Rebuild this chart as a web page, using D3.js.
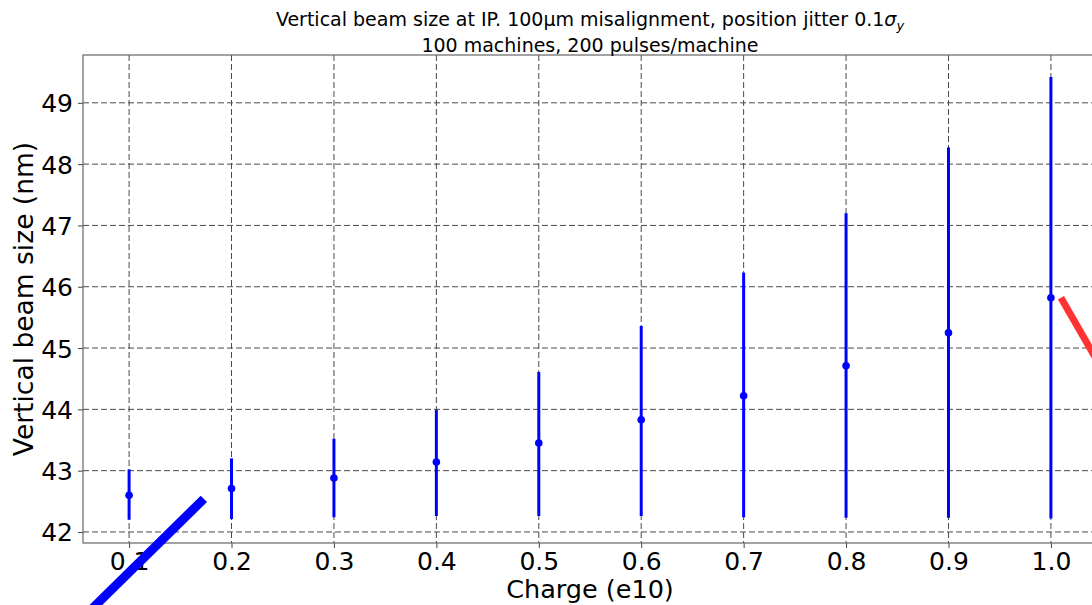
<!DOCTYPE html>
<html><head><meta charset="utf-8">
<script src="https://cdn.jsdelivr.net/npm/d3@7"></script>
<style>body{margin:0;background:#fff}svg{display:block;font-family:"DejaVu Sans",sans-serif}</style>
</head><body><svg id="c" width="1092" height="605"></svg>
<script>
const charges = [0.1,0.2,0.3,0.4,0.5,0.6,0.7,0.8,0.9,1.0];
const meanSize = [42.60,42.71,42.88,43.14,43.45,43.83,44.22,44.71,45.25,45.82];
const upperSize = [43.02,43.20,43.52,43.99,44.61,45.36,46.23,47.20,48.27,49.42];
const lowerSize = [42.20,42.21,42.24,42.26,42.26,42.26,42.24,42.23,42.23,42.22];
const xTicks = [0.1,0.2,0.3,0.4,0.5,0.6,0.7,0.8,0.9,1.0];
const yTicks = [42,43,44,45,46,47,48,49];
const blueArrow = [[0.173,42.54],[0.05,40.52]];
const redArrow = [[1.0098,45.82],[1.048,44.71]];

const svg = d3.select("#c");
const L=83, R=1097, T=55, B=543;
const x = d3.scaleLinear().domain([0.055,1.045]).range([L,R]);
const y = d3.scaleLinear().domain([41.82,49.78]).range([B,T]);

// grid
const g = svg.append("g");
g.selectAll(".gx").data(xTicks).join("line")
 .attr("x1",d=>x(d)).attr("x2",d=>x(d)).attr("y1",T).attr("y2",B)
 .attr("stroke","#4a4a4a").attr("stroke-width",1).attr("stroke-dasharray","6,3");
g.selectAll(".gy").data(yTicks).join("line")
 .attr("y1",d=>y(d)).attr("y2",d=>y(d)).attr("x1",L).attr("x2",R)
 .attr("stroke","#4a4a4a").attr("stroke-width",1).attr("stroke-dasharray","6,3");

// axes
const xa = svg.append("g").attr("transform",`translate(0,${B})`)
 .call(d3.axisBottom(x).tickValues(xTicks).tickFormat(d3.format(".1f")).tickSize(5).tickSizeOuter(0));
const ya = svg.append("g").attr("transform",`translate(${L},0)`)
 .call(d3.axisLeft(y).tickValues(yTicks).tickFormat(d3.format("d")).tickSize(5).tickSizeOuter(0));
[xa,ya].forEach(a=>{
 a.select(".domain").remove();
 a.selectAll(".tick line").attr("stroke","#444");
 a.selectAll(".tick text").attr("font-size",25).attr("fill","#000").attr("font-family","DejaVu Sans");
});
xa.selectAll(".tick text").attr("dy","0.76em");
ya.selectAll(".tick text").attr("dx","-0.08em").attr("dy","0.36em");

// frame
svg.append("rect").attr("x",L).attr("y",T).attr("width",R-L).attr("height",B-T)
 .attr("fill","none").attr("stroke","#666").attr("stroke-width",1.2);

// error bars
const data = charges.map((c,i)=>({c,m:meanSize[i],u:upperSize[i],l:lowerSize[i]}));
svg.selectAll(".eb").data(data).join("line")
 .attr("x1",d=>x(d.c)).attr("x2",d=>x(d.c)).attr("y1",d=>y(d.l)).attr("y2",d=>y(d.u))
 .attr("stroke","#0000ff").attr("stroke-width",3);
svg.selectAll(".pt").data(data).join("circle")
 .attr("cx",d=>x(d.c)).attr("cy",d=>y(d.m)).attr("r",3.8).attr("fill","#0000ff");

// annotation strokes
const ln = d3.line().x(d=>x(d[0])).y(d=>y(d[1]));
svg.append("path").attr("d",ln(blueArrow)).attr("stroke","#0000ff").attr("stroke-width",9).attr("fill","none");
svg.append("path").attr("d",ln(redArrow)).attr("stroke","#ff3333").attr("stroke-width",7).attr("fill","none");

// titles
const cx=(L+R)/2;
const t1 = svg.append("text").attr("x",cx).attr("y",26).attr("text-anchor","middle").attr("font-size",19);
t1.append("tspan").text("Vertical beam size at IP. 100µm misalignment, position jitter 0.1");
t1.append("tspan").attr("font-style","italic").text("σ");
t1.append("tspan").attr("font-style","italic").attr("font-size",13).attr("dy",4).text("y");
svg.append("text").attr("x",cx).attr("y",598).attr("text-anchor","middle").attr("font-size",25.5).text("Charge (e10)");
svg.append("text").attr("transform",`translate(33,${(T+B)/2}) rotate(-90)`).attr("text-anchor","middle").attr("font-size",26.5)
 .text("Vertical beam size (nm)");
svg.append("text").attr("x",cx).attr("y",52).attr("text-anchor","middle").attr("font-size",19)
 .text("100 machines, 200 pulses/machine");
</script></body></html>
